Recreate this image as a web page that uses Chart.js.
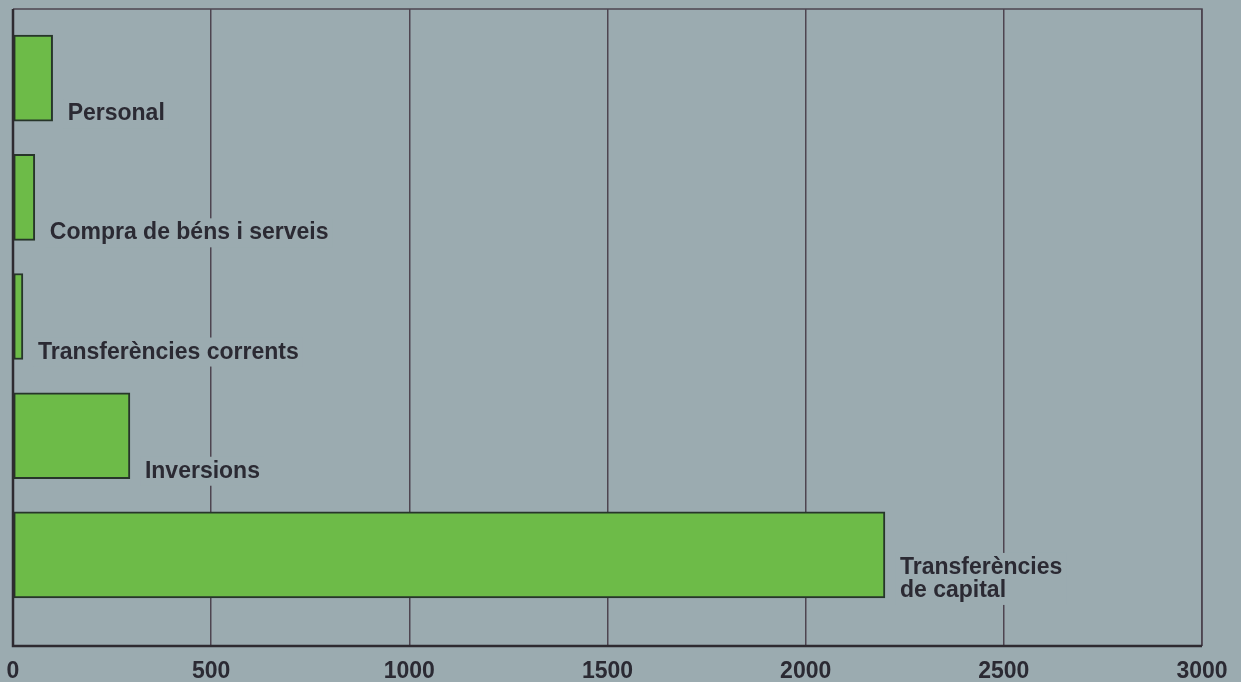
<!DOCTYPE html>
<html>
<head>
<meta charset="utf-8">
<script src="https://cdn.jsdelivr.net/npm/chart.js@4/dist/chart.umd.min.js"></script>
<style>
  html, body { margin: 0; padding: 0; background: #9babb0; }
  canvas { display: block; }
</style>
</head>
<body>
<canvas id="chart" width="1241" height="682"></canvas>
<script>
// categories, top to bottom (multi-line labels as arrays)
const categories = [
    ['Personal'],
    ['Compra de béns i serveis'],
    ['Transferències corrents'],
    ['Inversions'],
    ['Transferències', 'de capital']
];
const values = [100, 55, 25, 295, 2200];
const xTicks = [0, 500, 1000, 1500, 2000, 2500, 3000];

const bgColor = '#9babb0';
const inkColor = '#2b2a33';
const lineColor = '#4e4550';

// frame around plot area + labels next to bars
const framePlugin = {
    id: 'frame',
    afterDatasetsDraw(chart) {
        const ctx = chart.ctx;
        const a = chart.chartArea;
        const xs = chart.scales.x;
        const meta = chart.getDatasetMeta(0);

        // labels with background that cuts the grid lines
        ctx.save();
        ctx.font = 'bold 23px "Liberation Sans", Arial, sans-serif';
        ctx.textBaseline = 'alphabetic';
        ctx.textAlign = 'left';
        meta.data.forEach((bar, i) => {
            const lines = categories[i];
            const x = xs.getPixelForValue(values[i]) + 15;
            const bottom = bar.y + bar.height / 2 - 1;
            const lh = 23;
            let w = 0;
            lines.forEach(l => { w = Math.max(w, ctx.measureText(l).width); });
            const top = bottom - (lines.length - 1) * lh - 17;
            ctx.fillStyle = bgColor;
            ctx.fillRect(x - 4, top - 4, w + 8, bottom - top + 12);
            ctx.fillStyle = inkColor;
            lines.forEach((l, j) => {
                ctx.fillText(l, x, bottom - (lines.length - 1 - j) * lh);
            });
        });
        ctx.restore();

        ctx.save();
        ctx.strokeStyle = lineColor;
        ctx.lineWidth = 1.5;
        ctx.beginPath();
        ctx.moveTo(a.left, a.top);
        ctx.lineTo(a.right, a.top);
        ctx.lineTo(a.right, a.bottom);
        ctx.stroke();
        ctx.strokeStyle = '#2e2a30';
        ctx.lineWidth = 2.5;
        ctx.beginPath();
        ctx.moveTo(a.left, a.top);
        ctx.lineTo(a.left, a.bottom);
        ctx.lineTo(a.right, a.bottom);
        ctx.stroke();
        ctx.restore();
    }
};

new Chart(document.getElementById('chart'), {
    type: 'bar',
    data: {
        datasets: [{
            data: values.map((v, i) => ({ x: v, y: i })),
            backgroundColor: '#6dbb48',
            borderColor: '#27352a',
            borderWidth: 2,
            borderSkipped: false,
            barThickness: 86
        }]
    },
    options: {
        indexAxis: 'y',
        responsive: false,
        animation: false,
        layout: { padding: { left: 13, top: 9, right: 39, bottom: 0 } },
        plugins: { legend: { display: false }, tooltip: { enabled: false } },
        scales: {
            x: {
                type: 'linear',
                min: 0,
                max: 3000,
                afterBuildTicks(scale) {
                    scale.ticks = xTicks.map(v => ({ value: v }));
                },
                afterFit(scale) {
                    scale.height = 36;
                    scale.paddingLeft = 0;
                    scale.paddingRight = 0;
                },
                grid: {
                    color: lineColor,
                    lineWidth: 1.5,
                    drawTicks: false
                },
                border: { display: false },
                ticks: {
                    padding: 12,
                    color: inkColor,
                    callback: v => String(v),
                    font: { family: '"Liberation Sans", Arial, sans-serif', size: 23, weight: 'bold' }
                }
            },
            y: {
                type: 'linear',
                display: false,
                reverse: true,
                offset: false,
                min: -0.58,
                max: 4.764
            }
        }
    },
    plugins: [framePlugin]
});
</script>
</body>
</html>
